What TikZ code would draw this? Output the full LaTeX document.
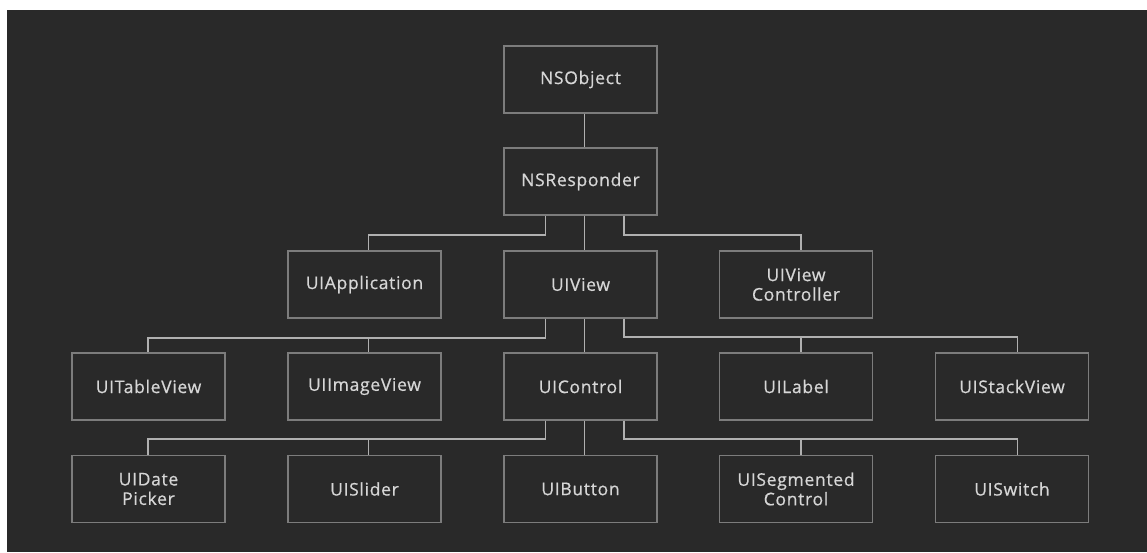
\documentclass[tikz,border=0pt]{standalone}
\usepackage{fontspec}
\setmainfont{Open Sans}
\newfontfamily\labelfont[LetterSpace=4,FakeBold=0.6]{Open Sans}
\definecolor{bgc}{HTML}{292929}
\definecolor{boxc}{HTML}{7C7C7C}
\definecolor{linec}{HTML}{B0B0B0}
\definecolor{txtc}{HTML}{D6D6D6}
\begin{document}
\begin{tikzpicture}[x=1pt,y=-1pt,
  cls/.style={draw=boxc,line width=1.4pt,fill=bgc,minimum width=153pt,minimum height=67pt,
    inner sep=0pt,align=center,text=txtc,font=\labelfont\fontsize{17.5}{19.5}\selectfont},
  conn/.style={draw=linec,line width=1.6pt}]
\useasboundingbox (0,0) rectangle (1147,552);
\fill[bgc] (7,10) rectangle (1147,552);
% nodes
\node[cls] (nsobj) at (580.5,79.5) {NSObject};
\node[cls] (resp) at (580.5,181.5) {NSResponder};
\node[cls] (app) at (364.5,284.5) {UIApplication};
\node[cls] (view) at (580.5,284.5) {UIView};
\node[cls] (vc) at (796,284.5) {UIView\\Controller};
\node[cls] (table) at (148.5,386.5) {UITableView};
\node[cls] (image) at (364.5,386.5) {UIImageView};
\node[cls] (control) at (580.5,386.5) {UIControl};
\node[cls] (label) at (796,386.5) {UILabel};
\node[cls] (stack) at (1012,386.5) {UIStackView};
\node[cls] (date) at (148.5,489) {UIDate\\Picker};
\node[cls] (slider) at (364.5,489) {UISlider};
\node[cls] (button) at (580.5,489) {UIButton};
\node[cls] (seg) at (796,489) {UISegmented\\Control};
\node[cls] (switch) at (1012,489) {UISwitch};
% connectors
\draw[conn] ([xshift=3.8pt]nsobj.south) -- ([xshift=3.8pt]resp.north);
\draw[conn] ([xshift=-35pt]resp.south) -- ++(0,19) -| ([xshift=3.8pt]app.north);
\draw[conn] ([xshift=3.8pt]resp.south) -- ([xshift=3.8pt]view.north);
\draw[conn] ([xshift=43.5pt]resp.south) -- ++(0,19) -| ([xshift=5pt]vc.north);
\draw[conn] ([xshift=-35pt]view.south) -- ++(0,19) -| ([xshift=-0.5pt]table.north);
\draw[conn] ([xshift=-35pt]view.south) -- ++(0,19) -| ([xshift=3.8pt]image.north);
\draw[conn] ([xshift=3.8pt]view.south) -- ([xshift=3.8pt]control.north);
\draw[conn] ([xshift=43.5pt]view.south) -- ++(0,18.5) -| ([xshift=5pt]label.north);
\draw[conn] ([xshift=43.5pt]view.south) -- ++(0,18.5) -| ([xshift=5.5pt]stack.north);
\draw[conn] ([xshift=-35pt]control.south) -- ++(0,18) -| ([xshift=-0.5pt]date.north);
\draw[conn] ([xshift=-35pt]control.south) -- ++(0,18) -| ([xshift=3.8pt]slider.north);
\draw[conn] ([xshift=3.8pt]control.south) -- ([xshift=3.8pt]button.north);
\draw[conn] ([xshift=43.5pt]control.south) -- ++(0,18) -| ([xshift=5pt]seg.north);
\draw[conn] ([xshift=43.5pt]control.south) -- ++(0,18) -| ([xshift=5.5pt]switch.north);
\end{tikzpicture}
\end{document}
